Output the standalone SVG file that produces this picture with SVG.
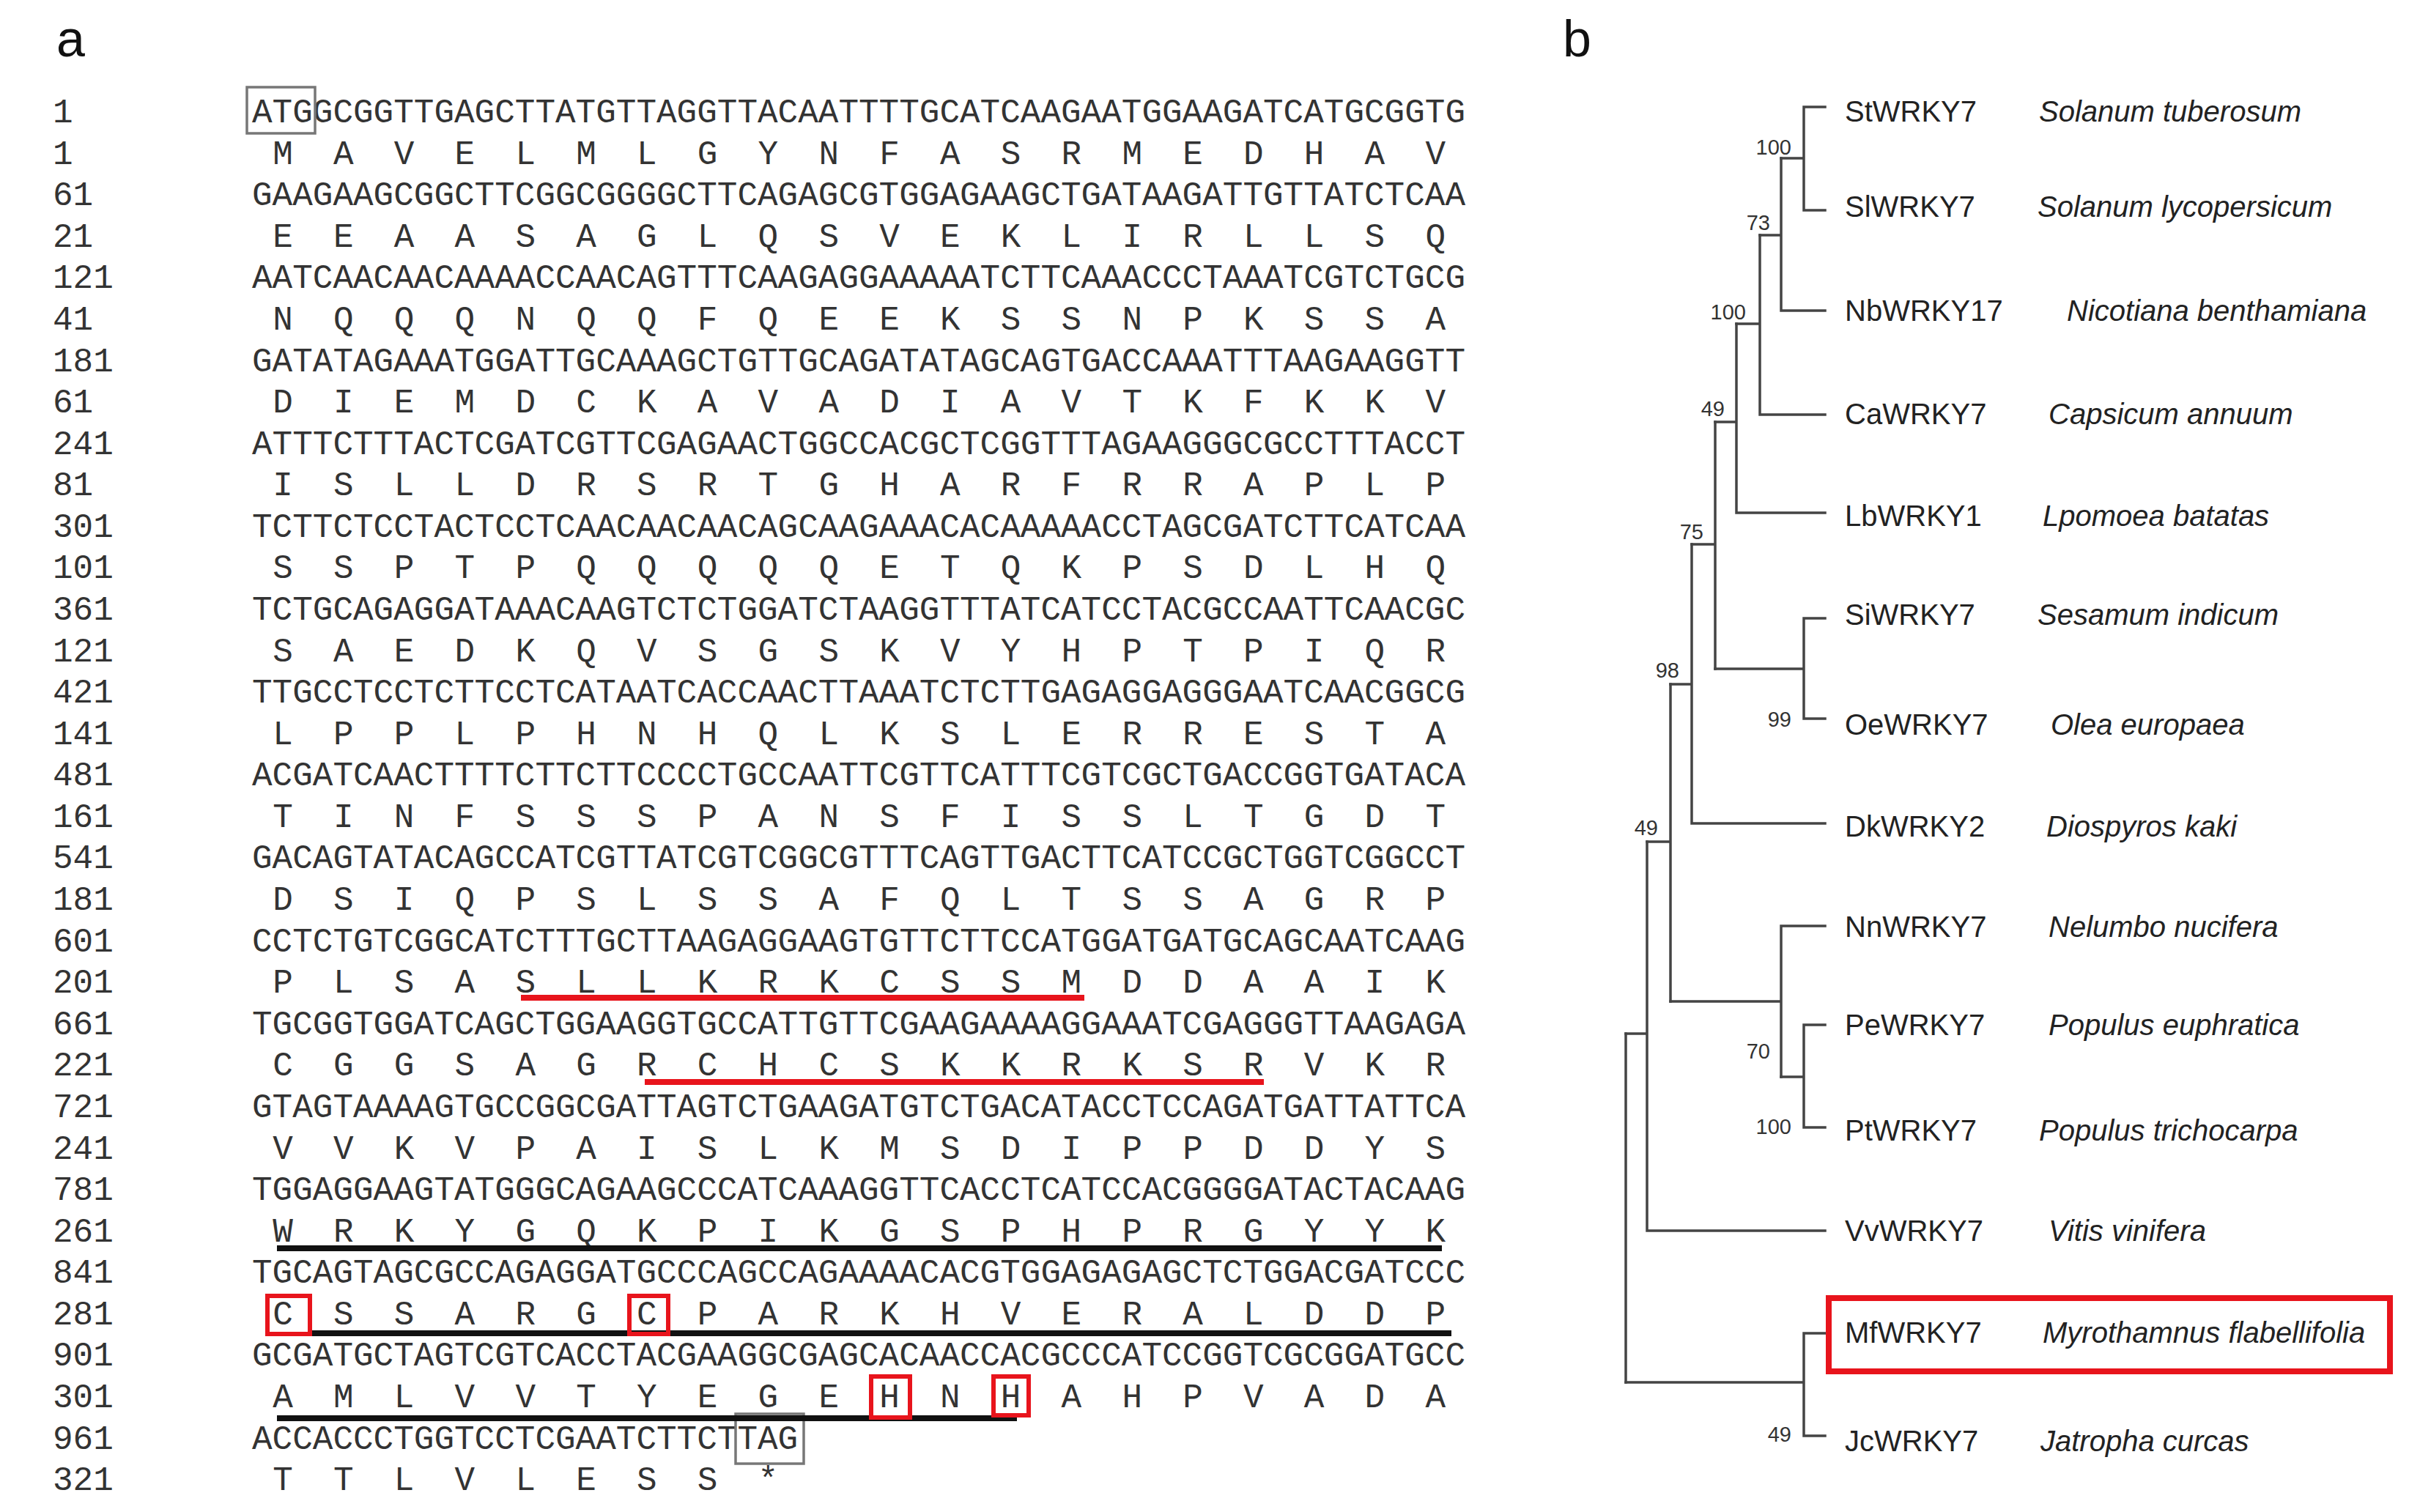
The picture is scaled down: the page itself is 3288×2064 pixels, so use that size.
<svg xmlns="http://www.w3.org/2000/svg" width="3288" height="2064" viewBox="0 0 3288 2064">
<style>
.seq{font-family:"Liberation Mono","DejaVu Sans Mono",monospace;font-size:46px;fill:#333}
.aa{text-anchor:middle}
.num{font-family:"Liberation Mono","DejaVu Sans Mono",monospace;font-size:46px;fill:#333}
.lbl{font-family:"Liberation Sans",Arial,sans-serif;font-size:40px;fill:#222}
.sp{font-style:italic}
.bs{font-family:"Liberation Sans",Arial,sans-serif;font-size:29px;fill:#333;text-anchor:end}
.panel{font-family:"Liberation Sans",Arial,sans-serif;font-size:70px;fill:#111}
.br{fill:none;stroke:#444;stroke-width:3.5;stroke-linecap:square}
.redbox{fill:none;stroke:#e8141c;stroke-width:6}
.redline{stroke:#e8141c;stroke-width:8}
.blackline{stroke:#111;stroke-width:8}
.graybox{fill:none;stroke:#777;stroke-width:3.5}
</style>
<rect width="3288" height="2064" fill="#fff"/>
<text class="panel" x="77" y="77">a</text>
<text class="panel" x="2133" y="77">b</text>

<g id="sequence">
<g id="row-numbers" class="num">
<text x="72" y="167">1</text>
<text x="72" y="223.6">1</text>
<text x="72" y="280.2">61</text>
<text x="72" y="336.7">21</text>
<text x="72" y="393.3">121</text>
<text x="72" y="449.9">41</text>
<text x="72" y="506.5">181</text>
<text x="72" y="563.1">61</text>
<text x="72" y="619.6">241</text>
<text x="72" y="676.2">81</text>
<text x="72" y="732.8">301</text>
<text x="72" y="789.4">101</text>
<text x="72" y="846">361</text>
<text x="72" y="902.5">121</text>
<text x="72" y="959.1">421</text>
<text x="72" y="1015.7">141</text>
<text x="72" y="1072.3">481</text>
<text x="72" y="1128.9">161</text>
<text x="72" y="1185.4">541</text>
<text x="72" y="1242">181</text>
<text x="72" y="1298.6">601</text>
<text x="72" y="1355.2">201</text>
<text x="72" y="1411.8">661</text>
<text x="72" y="1468.3">221</text>
<text x="72" y="1524.9">721</text>
<text x="72" y="1581.5">241</text>
<text x="72" y="1638.1">781</text>
<text x="72" y="1694.7">261</text>
<text x="72" y="1751.2">841</text>
<text x="72" y="1807.8">281</text>
<text x="72" y="1864.4">901</text>
<text x="72" y="1921">301</text>
<text x="72" y="1977.6">961</text>
<text x="72" y="2034.1">321</text>
</g>
<g id="nucleotides" class="seq">
<text x="344" y="167" textLength="1656" lengthAdjust="spacingAndGlyphs">ATGGCGGTTGAGCTTATGTTAGGTTACAATTTTGCATCAAGAATGGAAGATCATGCGGTG</text>
<text x="344" y="280.2" textLength="1656" lengthAdjust="spacingAndGlyphs">GAAGAAGCGGCTTCGGCGGGGCTTCAGAGCGTGGAGAAGCTGATAAGATTGTTATCTCAA</text>
<text x="344" y="393.3" textLength="1656" lengthAdjust="spacingAndGlyphs">AATCAACAACAAAACCAACAGTTTCAAGAGGAAAAATCTTCAAACCCTAAATCGTCTGCG</text>
<text x="344" y="506.5" textLength="1656" lengthAdjust="spacingAndGlyphs">GATATAGAAATGGATTGCAAAGCTGTTGCAGATATAGCAGTGACCAAATTTAAGAAGGTT</text>
<text x="344" y="619.6" textLength="1656" lengthAdjust="spacingAndGlyphs">ATTTCTTTACTCGATCGTTCGAGAACTGGCCACGCTCGGTTTAGAAGGGCGCCTTTACCT</text>
<text x="344" y="732.8" textLength="1656" lengthAdjust="spacingAndGlyphs">TCTTCTCCTACTCCTCAACAACAACAGCAAGAAACACAAAAACCTAGCGATCTTCATCAA</text>
<text x="344" y="846" textLength="1656" lengthAdjust="spacingAndGlyphs">TCTGCAGAGGATAAACAAGTCTCTGGATCTAAGGTTTATCATCCTACGCCAATTCAACGC</text>
<text x="344" y="959.1" textLength="1656" lengthAdjust="spacingAndGlyphs">TTGCCTCCTCTTCCTCATAATCACCAACTTAAATCTCTTGAGAGGAGGGAATCAACGGCG</text>
<text x="344" y="1072.3" textLength="1656" lengthAdjust="spacingAndGlyphs">ACGATCAACTTTTCTTCTTCCCCTGCCAATTCGTTCATTTCGTCGCTGACCGGTGATACA</text>
<text x="344" y="1185.4" textLength="1656" lengthAdjust="spacingAndGlyphs">GACAGTATACAGCCATCGTTATCGTCGGCGTTTCAGTTGACTTCATCCGCTGGTCGGCCT</text>
<text x="344" y="1298.6" textLength="1656" lengthAdjust="spacingAndGlyphs">CCTCTGTCGGCATCTTTGCTTAAGAGGAAGTGTTCTTCCATGGATGATGCAGCAATCAAG</text>
<text x="344" y="1411.8" textLength="1656" lengthAdjust="spacingAndGlyphs">TGCGGTGGATCAGCTGGAAGGTGCCATTGTTCGAAGAAAAGGAAATCGAGGGTTAAGAGA</text>
<text x="344" y="1524.9" textLength="1656" lengthAdjust="spacingAndGlyphs">GTAGTAAAAGTGCCGGCGATTAGTCTGAAGATGTCTGACATACCTCCAGATGATTATTCA</text>
<text x="344" y="1638.1" textLength="1656" lengthAdjust="spacingAndGlyphs">TGGAGGAAGTATGGGCAGAAGCCCATCAAAGGTTCACCTCATCCACGGGGATACTACAAG</text>
<text x="344" y="1751.2" textLength="1656" lengthAdjust="spacingAndGlyphs">TGCAGTAGCGCCAGAGGATGCCCAGCCAGAAAACACGTGGAGAGAGCTCTGGACGATCCC</text>
<text x="344" y="1864.4" textLength="1656" lengthAdjust="spacingAndGlyphs">GCGATGCTAGTCGTCACCTACGAAGGCGAGCACAACCACGCCCATCCGGTCGCGGATGCC</text>
<text x="344" y="1977.6" textLength="745.2" lengthAdjust="spacingAndGlyphs">ACCACCCTGGTCCTCGAATCTTCTTAG</text>
</g>
<g id="amino-acids" class="seq aa">
<text x="386 468.8 551.6 634.4 717.2 800 882.8 965.6 1048.4 1131.2 1214 1296.8 1379.6 1462.4 1545.2 1628 1710.8 1793.6 1876.4 1959.2" y="223.6">MAVELMLGYNFASRMEDHAV</text>
<text x="386 468.8 551.6 634.4 717.2 800 882.8 965.6 1048.4 1131.2 1214 1296.8 1379.6 1462.4 1545.2 1628 1710.8 1793.6 1876.4 1959.2" y="336.7">EEAASAGLQSVEKLIRLLSQ</text>
<text x="386 468.8 551.6 634.4 717.2 800 882.8 965.6 1048.4 1131.2 1214 1296.8 1379.6 1462.4 1545.2 1628 1710.8 1793.6 1876.4 1959.2" y="449.9">NQQQNQQFQEEKSSNPKSSA</text>
<text x="386 468.8 551.6 634.4 717.2 800 882.8 965.6 1048.4 1131.2 1214 1296.8 1379.6 1462.4 1545.2 1628 1710.8 1793.6 1876.4 1959.2" y="563.1">DIEMDCKAVADIAVTKFKKV</text>
<text x="386 468.8 551.6 634.4 717.2 800 882.8 965.6 1048.4 1131.2 1214 1296.8 1379.6 1462.4 1545.2 1628 1710.8 1793.6 1876.4 1959.2" y="676.2">ISLLDRSRTGHARFRRAPLP</text>
<text x="386 468.8 551.6 634.4 717.2 800 882.8 965.6 1048.4 1131.2 1214 1296.8 1379.6 1462.4 1545.2 1628 1710.8 1793.6 1876.4 1959.2" y="789.4">SSPTPQQQQQETQKPSDLHQ</text>
<text x="386 468.8 551.6 634.4 717.2 800 882.8 965.6 1048.4 1131.2 1214 1296.8 1379.6 1462.4 1545.2 1628 1710.8 1793.6 1876.4 1959.2" y="902.5">SAEDKQVSGSKVYHPTPIQR</text>
<text x="386 468.8 551.6 634.4 717.2 800 882.8 965.6 1048.4 1131.2 1214 1296.8 1379.6 1462.4 1545.2 1628 1710.8 1793.6 1876.4 1959.2" y="1015.7">LPPLPHNHQLKSLERRESTA</text>
<text x="386 468.8 551.6 634.4 717.2 800 882.8 965.6 1048.4 1131.2 1214 1296.8 1379.6 1462.4 1545.2 1628 1710.8 1793.6 1876.4 1959.2" y="1128.9">TINFSSSPANSFISSLTGDT</text>
<text x="386 468.8 551.6 634.4 717.2 800 882.8 965.6 1048.4 1131.2 1214 1296.8 1379.6 1462.4 1545.2 1628 1710.8 1793.6 1876.4 1959.2" y="1242">DSIQPSLSSAFQLTSSAGRP</text>
<text x="386 468.8 551.6 634.4 717.2 800 882.8 965.6 1048.4 1131.2 1214 1296.8 1379.6 1462.4 1545.2 1628 1710.8 1793.6 1876.4 1959.2" y="1355.2">PLSASLLKRKCSSMDDAAIK</text>
<text x="386 468.8 551.6 634.4 717.2 800 882.8 965.6 1048.4 1131.2 1214 1296.8 1379.6 1462.4 1545.2 1628 1710.8 1793.6 1876.4 1959.2" y="1468.3">CGGSAGRCHCSKKRKSRVKR</text>
<text x="386 468.8 551.6 634.4 717.2 800 882.8 965.6 1048.4 1131.2 1214 1296.8 1379.6 1462.4 1545.2 1628 1710.8 1793.6 1876.4 1959.2" y="1581.5">VVKVPAISLKMSDIPPDDYS</text>
<text x="386 468.8 551.6 634.4 717.2 800 882.8 965.6 1048.4 1131.2 1214 1296.8 1379.6 1462.4 1545.2 1628 1710.8 1793.6 1876.4 1959.2" y="1694.7">WRKYGQKPIKGSPHPRGYYK</text>
<text x="386 468.8 551.6 634.4 717.2 800 882.8 965.6 1048.4 1131.2 1214 1296.8 1379.6 1462.4 1545.2 1628 1710.8 1793.6 1876.4 1959.2" y="1807.8">CSSARGCPARKHVERALDDP</text>
<text x="386 468.8 551.6 634.4 717.2 800 882.8 965.6 1048.4 1131.2 1214 1296.8 1379.6 1462.4 1545.2 1628 1710.8 1793.6 1876.4 1959.2" y="1921">AMLVVTYEGEHNHAHPVADA</text>
<text x="386 468.8 551.6 634.4 717.2 800 882.8 965.6 1048.4" y="2034.1">TTLVLESS*</text>
</g>
<g id="annotations">
<rect class="graybox" x="337" y="119" width="93" height="63"/>
<rect class="graybox" x="1004" y="1930" width="93" height="68"/>
<line class="redline" x1="711" y1="1362" x2="1480" y2="1362"/>
<line class="redline" x1="880" y1="1477" x2="1725" y2="1477"/>
<line class="blackline" x1="378" y1="1704" x2="1968" y2="1704"/>
<line class="blackline" x1="425" y1="1820" x2="1981" y2="1820"/>
<line class="blackline" x1="378" y1="1936" x2="1388" y2="1936"/>
<rect class="redbox" x="365" y="1769" width="58" height="52"/>
<rect class="redbox" x="859" y="1769" width="53" height="52"/>
<rect class="redbox" x="1189" y="1879" width="53" height="56"/>
<rect class="redbox" x="1356" y="1879" width="48" height="53"/>
</g>
</g>

<g id="tree">
<g id="connectors" class="br">
<path d="M2491,146 H2462 V287 H2491 M2431,216 H2462"/>
<path d="M2431,216 V424 H2491 M2402,321 H2431"/>
<path d="M2402,321 V566 H2491 M2370,442 H2402"/>
<path d="M2370,442 V700 H2491 M2341,576 H2370"/>
<path d="M2491,844 H2462 V981 H2491 M2341,913 H2462"/>
<path d="M2341,576 V913 M2309,743 H2341"/>
<path d="M2309,743 V1124 H2491 M2280,934 H2309"/>
<path d="M2491,1399 H2462 V1539 H2491 M2431,1470 H2462"/>
<path d="M2491,1264 H2431 V1470 M2280,1367 H2431"/>
<path d="M2280,934 V1367 M2248,1149 H2280"/>
<path d="M2248,1149 V1680 H2491 M2219,1411 H2248"/>
<path d="M2491,1820 H2462 V1960 H2491 M2219,1887 H2462"/>
<path d="M2219,1411 V1887"/>
</g>
<g id="bootstrap" class="bs">
<text x="2445" y="211">100</text>
<text x="2416" y="314">73</text>
<text x="2383" y="436">100</text>
<text x="2354" y="568">49</text>
<text x="2325" y="736">75</text>
<text x="2445" y="992">99</text>
<text x="2292" y="925">98</text>
<text x="2263" y="1140">49</text>
<text x="2416" y="1445">70</text>
<text x="2445" y="1548">100</text>
<text x="2445" y="1968">49</text>
</g>
<g id="leaf-StWRKY7" class="lbl"><text x="2518" y="166">StWRKY7</text><text class="sp" x="2783" y="166">Solanum tuberosum</text></g>
<g id="leaf-SlWRKY7" class="lbl"><text x="2518" y="296">SlWRKY7</text><text class="sp" x="2781" y="296">Solanum lycopersicum</text></g>
<g id="leaf-NbWRKY17" class="lbl"><text x="2518" y="438">NbWRKY17</text><text class="sp" x="2821" y="438">Nicotiana benthamiana</text></g>
<g id="leaf-CaWRKY7" class="lbl"><text x="2518" y="579">CaWRKY7</text><text class="sp" x="2796" y="579">Capsicum annuum</text></g>
<g id="leaf-LbWRKY1" class="lbl"><text x="2518" y="718">LbWRKY1</text><text class="sp" x="2788" y="718">Lpomoea batatas</text></g>
<g id="leaf-SiWRKY7" class="lbl"><text x="2518" y="853">SiWRKY7</text><text class="sp" x="2781" y="853">Sesamum indicum</text></g>
<g id="leaf-OeWRKY7" class="lbl"><text x="2518" y="1003">OeWRKY7</text><text class="sp" x="2799" y="1003">Olea europaea</text></g>
<g id="leaf-DkWRKY2" class="lbl"><text x="2518" y="1142">DkWRKY2</text><text class="sp" x="2793" y="1142">Diospyros kaki</text></g>
<g id="leaf-NnWRKY7" class="lbl"><text x="2518" y="1279">NnWRKY7</text><text class="sp" x="2796" y="1279">Nelumbo nucifera</text></g>
<g id="leaf-PeWRKY7" class="lbl"><text x="2518" y="1413">PeWRKY7</text><text class="sp" x="2796" y="1413">Populus euphratica</text></g>
<g id="leaf-PtWRKY7" class="lbl"><text x="2518" y="1557">PtWRKY7</text><text class="sp" x="2783" y="1557">Populus trichocarpa</text></g>
<g id="leaf-VvWRKY7" class="lbl"><text x="2518" y="1694">VvWRKY7</text><text class="sp" x="2796" y="1694">Vitis vinifera</text></g>
<g id="leaf-MfWRKY7" class="lbl"><rect x="2496" y="1772" width="766" height="100" fill="none" stroke="#e8141c" stroke-width="8"/><text x="2518" y="1833">MfWRKY7</text><text class="sp" x="2788" y="1833">Myrothamnus flabellifolia</text></g>
<g id="leaf-JcWRKY7" class="lbl"><text x="2518" y="1981">JcWRKY7</text><text class="sp" x="2785" y="1981">Jatropha curcas</text></g>
</g>
</svg>
